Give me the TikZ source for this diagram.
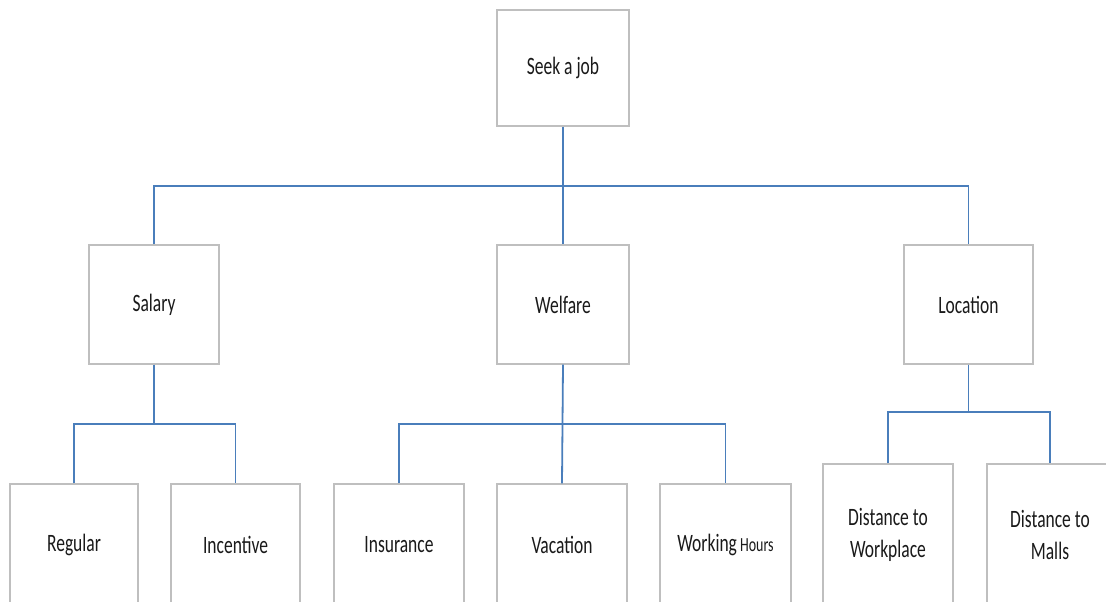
\documentclass[tikz,border=0pt]{standalone}
\usepackage{fontspec}
\newfontfamily\boxfont[FakeStretch=0.7]{Carlito}
\definecolor{boxgray}{HTML}{BFBFBF}
\definecolor{connblue}{HTML}{4A7EBB}
\definecolor{txt}{HTML}{1A1A1A}
\tikzset{
  box/.style={draw=boxgray, line width=1.4pt, fill=white, inner sep=0pt,
    align=center, text=txt, font=\boxfont\fontsize{25}{32}\selectfont},
  conn/.style={draw=connblue, line width=1.8pt}
}
\begin{document}
\begin{tikzpicture}[x=1pt,y=-1pt]
\useasboundingbox (0,0) rectangle (1106,602);
\clip (0,0) rectangle (1106,602);
% level 0
\node[box, minimum width=132pt, minimum height=116pt] (seek) at (563,68) {Seek a job};
% level 1
\node[box, minimum width=130pt, minimum height=119pt] (salary) at (154,304.5) {Salary};
\node[box, minimum width=132pt, minimum height=119pt] (welfare) at (563,304.5) {Welfare};
\node[box, minimum width=129pt, minimum height=119pt] (location) at (968.5,304.5) {Location};
% level 2
\node[box, minimum width=128pt, minimum height=122pt] (regular) at (74,545) {Regular};
\node[box, minimum width=129pt, minimum height=122pt] (incentive) at (235.5,545) {Incentive};
\node[box, minimum width=130pt, minimum height=122pt] (insurance) at (399,545) {Insurance};
\node[box, minimum width=130pt, minimum height=122pt] (vacation) at (562,545) {Vacation};
\node[box, minimum width=131pt, minimum height=122pt] (hours) at (725.5,545) {Working{\fontsize{20}{24}\selectfont\ Hours}};
\node[box, minimum width=130pt, minimum height=142pt] (workplace) at (888,535) {Distance to\\Workplace};
\node[box, minimum width=126pt, minimum height=142pt] (malls) at (1050,535) {Distance to\\Malls};
% connector junctions
\coordinate (j0) at (563,186);
\coordinate (j1) at (154,424);
\coordinate (j2) at (563,424);
\coordinate (j3) at (968.5,412);
% connectors
\draw[conn] (seek.south) -- (welfare.north);
\draw[conn] (salary.north) -- (salary.north |- j0) -- (location.north |- j0) -- (location.north);
\draw[conn] (salary.south) -- (j1);
\draw[conn] (regular.north) -- (regular.north |- j1) -- (incentive.north |- j1) -- (incentive.north);
\draw[conn] (welfare.south) -- (vacation.north);
\draw[conn] (insurance.north) -- (insurance.north |- j2) -- (hours.north |- j2) -- (hours.north);
\draw[conn] (location.south) -- (j3);
\draw[conn] (workplace.north) -- (workplace.north |- j3) -- (malls.north |- j3) -- (malls.north);
\end{tikzpicture}
\end{document}
